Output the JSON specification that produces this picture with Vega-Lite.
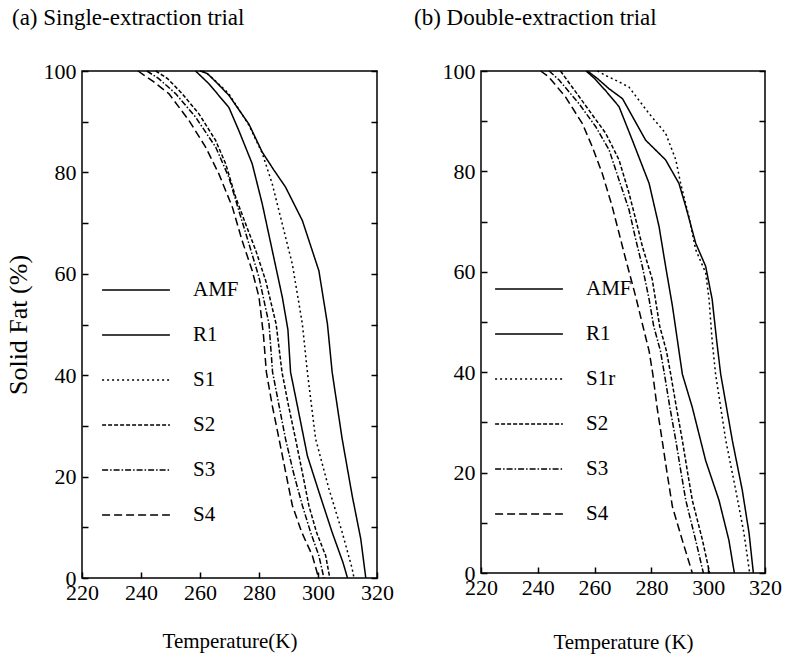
{
  "$schema": "https://vega.github.io/schema/vega-lite/v6.json",
  "padding": {"left": 4, "top": 6, "right": 4, "bottom": 4},
  "spacing": 104,
  "bounds": "flush",
  "datasets": {
    "a": [
      {"s": "AMF", "t": 258.5, "p": 100}, {"s": "AMF", "t": 263, "p": 97.5}, {"s": "AMF", "t": 269.8, "p": 92.8}, {"s": "AMF", "t": 273.2, "p": 88.2}, {"s": "AMF", "t": 277.7, "p": 81.7}, {"s": "AMF", "t": 281.1, "p": 73.8}, {"s": "AMF", "t": 284.5, "p": 64.6}, {"s": "AMF", "t": 287.9, "p": 55.4}, {"s": "AMF", "t": 289.8, "p": 49}, {"s": "AMF", "t": 290.7, "p": 40.6}, {"s": "AMF", "t": 293, "p": 34}, {"s": "AMF", "t": 296.4, "p": 24.1}, {"s": "AMF", "t": 300.3, "p": 17}, {"s": "AMF", "t": 304.8, "p": 9}, {"s": "AMF", "t": 308.5, "p": 3}, {"s": "AMF", "t": 310, "p": 0},
      {"s": "R1", "t": 260, "p": 100}, {"s": "R1", "t": 262.5, "p": 99.5}, {"s": "R1", "t": 266, "p": 97.5}, {"s": "R1", "t": 269.8, "p": 95.2}, {"s": "R1", "t": 276.6, "p": 89.5}, {"s": "R1", "t": 281.1, "p": 84}, {"s": "R1", "t": 285, "p": 80.5}, {"s": "R1", "t": 289, "p": 77.1}, {"s": "R1", "t": 294.7, "p": 70.5}, {"s": "R1", "t": 300.3, "p": 60.6}, {"s": "R1", "t": 303.2, "p": 50.1}, {"s": "R1", "t": 304.8, "p": 40.6}, {"s": "R1", "t": 308.2, "p": 27.4}, {"s": "R1", "t": 311.6, "p": 16.2}, {"s": "R1", "t": 314.5, "p": 7.7}, {"s": "R1", "t": 316.2, "p": 0},
      {"s": "S1", "t": 261, "p": 100}, {"s": "S1", "t": 263.5, "p": 99}, {"s": "S1", "t": 269.8, "p": 95.5}, {"s": "S1", "t": 276.6, "p": 89.3}, {"s": "S1", "t": 281.1, "p": 83.8}, {"s": "S1", "t": 284.5, "p": 77.7}, {"s": "S1", "t": 287.9, "p": 69.8}, {"s": "S1", "t": 291.3, "p": 61.9}, {"s": "S1", "t": 294.7, "p": 50.1}, {"s": "S1", "t": 296.4, "p": 40.6}, {"s": "S1", "t": 299.2, "p": 27.4}, {"s": "S1", "t": 303.7, "p": 17.6}, {"s": "S1", "t": 308.2, "p": 9}, {"s": "S1", "t": 311.6, "p": 1.8}, {"s": "S1", "t": 312.2, "p": 0},
      {"s": "S2", "t": 245, "p": 100}, {"s": "S2", "t": 249, "p": 98.5}, {"s": "S2", "t": 254, "p": 95.5}, {"s": "S2", "t": 259.7, "p": 91.5}, {"s": "S2", "t": 265.3, "p": 86.3}, {"s": "S2", "t": 268.7, "p": 81.7}, {"s": "S2", "t": 272.1, "p": 75.1}, {"s": "S2", "t": 275.5, "p": 69.8}, {"s": "S2", "t": 278.9, "p": 64.6}, {"s": "S2", "t": 282.3, "p": 58.6}, {"s": "S2", "t": 285.8, "p": 50.1}, {"s": "S2", "t": 287.8, "p": 40.6}, {"s": "S2", "t": 290, "p": 34}, {"s": "S2", "t": 292.4, "p": 27.4}, {"s": "S2", "t": 294.8, "p": 20.5}, {"s": "S2", "t": 296.9, "p": 14.3}, {"s": "S2", "t": 299.5, "p": 9}, {"s": "S2", "t": 302.6, "p": 4.4}, {"s": "S2", "t": 304, "p": 0},
      {"s": "S3", "t": 242, "p": 100}, {"s": "S3", "t": 246, "p": 98.5}, {"s": "S3", "t": 251.8, "p": 95.5}, {"s": "S3", "t": 258.5, "p": 90.9}, {"s": "S3", "t": 265.3, "p": 85}, {"s": "S3", "t": 269.8, "p": 79}, {"s": "S3", "t": 273.2, "p": 72.4}, {"s": "S3", "t": 276.6, "p": 65.9}, {"s": "S3", "t": 280, "p": 59.3}, {"s": "S3", "t": 283.4, "p": 50.1}, {"s": "S3", "t": 284.6, "p": 40.6}, {"s": "S3", "t": 286.8, "p": 34}, {"s": "S3", "t": 289, "p": 27.4}, {"s": "S3", "t": 291.8, "p": 20.5}, {"s": "S3", "t": 294.7, "p": 14.3}, {"s": "S3", "t": 297.5, "p": 9}, {"s": "S3", "t": 300.3, "p": 4.4}, {"s": "S3", "t": 302, "p": 0},
      {"s": "S4", "t": 239, "p": 100}, {"s": "S4", "t": 244, "p": 98}, {"s": "S4", "t": 249.5, "p": 95.5}, {"s": "S4", "t": 256.3, "p": 90.2}, {"s": "S4", "t": 261.9, "p": 85}, {"s": "S4", "t": 266.4, "p": 79.7}, {"s": "S4", "t": 271, "p": 73.1}, {"s": "S4", "t": 274.3, "p": 66.5}, {"s": "S4", "t": 277.7, "p": 60.6}, {"s": "S4", "t": 280, "p": 55.4}, {"s": "S4", "t": 281.5, "p": 48}, {"s": "S4", "t": 282.5, "p": 40.6}, {"s": "S4", "t": 284.5, "p": 34}, {"s": "S4", "t": 286.8, "p": 27.4}, {"s": "S4", "t": 289, "p": 21}, {"s": "S4", "t": 291.3, "p": 14.3}, {"s": "S4", "t": 294.5, "p": 9}, {"s": "S4", "t": 298.1, "p": 4.4}, {"s": "S4", "t": 300.2, "p": 0}
    ],
    "b": [
      {"s": "AMF", "t": 257, "p": 100}, {"s": "AMF", "t": 260, "p": 98.5}, {"s": "AMF", "t": 264, "p": 96}, {"s": "AMF", "t": 268.6, "p": 92.9}, {"s": "AMF", "t": 273.3, "p": 86.2}, {"s": "AMF", "t": 279.2, "p": 77.6}, {"s": "AMF", "t": 282.7, "p": 69}, {"s": "AMF", "t": 285, "p": 61.1}, {"s": "AMF", "t": 287.4, "p": 53.2}, {"s": "AMF", "t": 289.2, "p": 46.2}, {"s": "AMF", "t": 290.9, "p": 39.6}, {"s": "AMF", "t": 294.4, "p": 33}, {"s": "AMF", "t": 299.1, "p": 22.4}, {"s": "AMF", "t": 303.8, "p": 14.5}, {"s": "AMF", "t": 307.3, "p": 6.5}, {"s": "AMF", "t": 309.2, "p": 0},
      {"s": "R1", "t": 257.5, "p": 100}, {"s": "R1", "t": 261, "p": 98.5}, {"s": "R1", "t": 265, "p": 96.5}, {"s": "R1", "t": 269.8, "p": 94.5}, {"s": "R1", "t": 278, "p": 86.2}, {"s": "R1", "t": 285, "p": 82.3}, {"s": "R1", "t": 289.7, "p": 77.6}, {"s": "R1", "t": 292.1, "p": 73}, {"s": "R1", "t": 295.6, "p": 65.7}, {"s": "R1", "t": 299.1, "p": 61.1}, {"s": "R1", "t": 301.4, "p": 54.5}, {"s": "R1", "t": 303, "p": 46.2}, {"s": "R1", "t": 304.4, "p": 39.6}, {"s": "R1", "t": 308.5, "p": 26.4}, {"s": "R1", "t": 312, "p": 16.5}, {"s": "R1", "t": 314.4, "p": 7.9}, {"s": "R1", "t": 315.9, "p": 0},
      {"s": "S1r", "t": 261, "p": 100}, {"s": "S1r", "t": 263.9, "p": 99.1}, {"s": "S1r", "t": 268, "p": 98}, {"s": "S1r", "t": 272.1, "p": 96.8}, {"s": "S1r", "t": 279.2, "p": 91.5}, {"s": "S1r", "t": 285, "p": 87.6}, {"s": "S1r", "t": 288.6, "p": 82.3}, {"s": "S1r", "t": 290.3, "p": 77.6}, {"s": "S1r", "t": 293.2, "p": 71}, {"s": "S1r", "t": 295.6, "p": 64.4}, {"s": "S1r", "t": 299.1, "p": 59.8}, {"s": "S1r", "t": 300.3, "p": 54.5}, {"s": "S1r", "t": 301.4, "p": 46.2}, {"s": "S1r", "t": 302.6, "p": 39.6}, {"s": "S1r", "t": 306.2, "p": 26.4}, {"s": "S1r", "t": 309.7, "p": 16.5}, {"s": "S1r", "t": 312.6, "p": 7.9}, {"s": "S1r", "t": 314.6, "p": 0},
      {"s": "S2", "t": 248, "p": 100}, {"s": "S2", "t": 252.1, "p": 96.8}, {"s": "S2", "t": 258, "p": 92.2}, {"s": "S2", "t": 263.9, "p": 87.6}, {"s": "S2", "t": 268.6, "p": 82.3}, {"s": "S2", "t": 272.1, "p": 75.7}, {"s": "S2", "t": 274.5, "p": 70.4}, {"s": "S2", "t": 276.8, "p": 65.1}, {"s": "S2", "t": 280.3, "p": 58.5}, {"s": "S2", "t": 282.9, "p": 49.2}, {"s": "S2", "t": 285.3, "p": 44.2}, {"s": "S2", "t": 286.8, "p": 39.6}, {"s": "S2", "t": 288.8, "p": 33}, {"s": "S2", "t": 290.9, "p": 26.4}, {"s": "S2", "t": 292.6, "p": 20.5}, {"s": "S2", "t": 294.4, "p": 14.5}, {"s": "S2", "t": 298, "p": 6.5}, {"s": "S2", "t": 300.5, "p": 0},
      {"s": "S3", "t": 244, "p": 100}, {"s": "S3", "t": 247.5, "p": 98.2}, {"s": "S3", "t": 254.5, "p": 93.5}, {"s": "S3", "t": 260.4, "p": 88.9}, {"s": "S3", "t": 265.1, "p": 84.3}, {"s": "S3", "t": 268.6, "p": 78.3}, {"s": "S3", "t": 272.1, "p": 72.4}, {"s": "S3", "t": 274.5, "p": 66.4}, {"s": "S3", "t": 276.8, "p": 61.1}, {"s": "S3", "t": 279.2, "p": 54.5}, {"s": "S3", "t": 280.8, "p": 49.2}, {"s": "S3", "t": 283.2, "p": 44.2}, {"s": "S3", "t": 284.6, "p": 39.6}, {"s": "S3", "t": 286.5, "p": 33}, {"s": "S3", "t": 288.6, "p": 26.4}, {"s": "S3", "t": 290.3, "p": 20.5}, {"s": "S3", "t": 292.1, "p": 14.5}, {"s": "S3", "t": 295.6, "p": 6.5}, {"s": "S3", "t": 298.3, "p": 0},
      {"s": "S4", "t": 241, "p": 100}, {"s": "S4", "t": 243.9, "p": 98.8}, {"s": "S4", "t": 249.8, "p": 94.8}, {"s": "S4", "t": 255.7, "p": 89.5}, {"s": "S4", "t": 259.2, "p": 84.9}, {"s": "S4", "t": 262.7, "p": 79.6}, {"s": "S4", "t": 266.2, "p": 73}, {"s": "S4", "t": 268.6, "p": 67.7}, {"s": "S4", "t": 271, "p": 62.4}, {"s": "S4", "t": 274.5, "p": 55}, {"s": "S4", "t": 277, "p": 49.2}, {"s": "S4", "t": 279.2, "p": 44.2}, {"s": "S4", "t": 280.5, "p": 39.6}, {"s": "S4", "t": 282, "p": 33}, {"s": "S4", "t": 283.8, "p": 26.4}, {"s": "S4", "t": 285.5, "p": 20}, {"s": "S4", "t": 287.4, "p": 13.2}, {"s": "S4", "t": 290.9, "p": 6.5}, {"s": "S4", "t": 294.4, "p": 0}
    ]
  },
  "hconcat": [
    {
      "title": {"text": "(a) Single-extraction trial", "dx": -70},
      "width": 295,
      "height": 507,
      "data": {"name": "a"},
      "layer": [
        {
          "mark": {"type": "line", "color": "black", "strokeWidth": 1.5},
          "encoding": {
            "x": {"field": "t", "type": "quantitative", "scale": {"domain": [220, 320], "nice": false, "zero": false},
                  "axis": {"title": "Temperature(K)", "titlePadding": 27, "values": [220, 230, 240, 250, 260, 270, 280, 290, 300, 310, 320], "labelExpr": "datum.value % 20 === 0 ? datum.label : ''"}},
            "y": {"field": "p", "type": "quantitative", "scale": {"domain": [0, 100], "nice": false},
                  "axis": {"title": "Solid Fat (%)", "values": [0, 10, 20, 30, 40, 50, 60, 70, 80, 90, 100], "labelExpr": "datum.value % 20 === 0 ? datum.label : ''"}},
            "strokeDash": {"field": "s", "type": "nominal",
                  "scale": {"domain": ["AMF", "R1", "S1", "S2", "S3", "S4"], "range": [[1, 0], [1, 0], [2, 3], [4, 2], [6, 2, 1.5, 2], [8, 4]]},
                  "legend": {"legendX": 19, "legendY": 184}}
          }
        },
        {
          "mark": {"type": "point", "opacity": 0},
          "encoding": {
            "x": {"field": "t", "type": "quantitative"},
            "y": {"field": "p", "type": "quantitative",
                  "axis": {"orient": "right", "title": null, "labels": false, "values": [0, 10, 20, 30, 40, 50, 60, 70, 80, 90, 100]}}
          }
        }
      ],
      "resolve": {"axis": {"y": "independent"}}
    },
    {
      "title": {"text": "(b) Double-extraction trial", "dx": -67},
      "width": 284,
      "height": 502,
      "data": {"name": "b"},
      "layer": [
        {
          "mark": {"type": "line", "color": "black", "strokeWidth": 1.5},
          "encoding": {
            "x": {"field": "t", "type": "quantitative", "scale": {"domain": [220, 320], "nice": false, "zero": false},
                  "axis": {"title": "Temperature (K)", "titlePadding": 33, "values": [220, 230, 240, 250, 260, 270, 280, 290, 300, 310, 320], "labelExpr": "datum.value % 20 === 0 ? datum.label : ''"}},
            "y": {"field": "p", "type": "quantitative", "scale": {"domain": [0, 100], "nice": false},
                  "axis": {"title": null, "values": [0, 10, 20, 30, 40, 50, 60, 70, 80, 90, 100], "labelExpr": "datum.value % 20 === 0 ? datum.label : ''"}},
            "strokeDash": {"field": "s", "type": "nominal",
                  "scale": {"domain": ["AMF", "R1", "S1r", "S2", "S3", "S4"], "range": [[1, 0], [1, 0], [2, 3], [4, 2], [6, 2, 1.5, 2], [8, 4]]},
                  "legend": {"legendX": 13, "legendY": 183, "rowPadding": -4}}
          }
        },
        {
          "mark": {"type": "point", "opacity": 0},
          "encoding": {
            "x": {"field": "t", "type": "quantitative"},
            "y": {"field": "p", "type": "quantitative",
                  "axis": {"orient": "right", "title": null, "labels": false, "values": [0, 10, 20, 30, 40, 50, 60, 70, 80, 90, 100]}}
          }
        }
      ],
      "resolve": {"axis": {"y": "independent"}}
    }
  ],
  "resolve": {"scale": {"strokeDash": "independent"}, "legend": {"strokeDash": "independent"}},
  "config": {
    "font": "Liberation Serif",
    "background": "white",
    "view": {"stroke": "black", "strokeWidth": 1.5},
    "title": {"fontSize": 23, "fontWeight": "normal", "anchor": "start", "frame": "group", "offset": 30, "color": "black", "font": "Liberation Serif"},
    "axis": {"domain": false, "grid": false, "tickColor": "black", "tickSize": -6, "tickWidth": 1.5, "labelFontSize": 22, "labelColor": "black", "labelPadding": 10, "labelFlush": false, "titleFontSize": 21, "titleFontWeight": "normal", "titleColor": "black", "labelFont": "Liberation Serif", "titleFont": "Liberation Serif"},
    "axisY": {"titlePadding": 12, "titleFontSize": 26, "labelPadding": 12},
    "legend": {"orient": "none", "title": null, "symbolType": "stroke", "symbolSize": 4600, "symbolStrokeWidth": 1.5, "symbolStrokeColor": "black", "labelFontSize": 21, "labelOffset": 22, "rowPadding": -2, "labelColor": "black", "padding": 0, "labelFont": "Liberation Serif"}
  }
}
